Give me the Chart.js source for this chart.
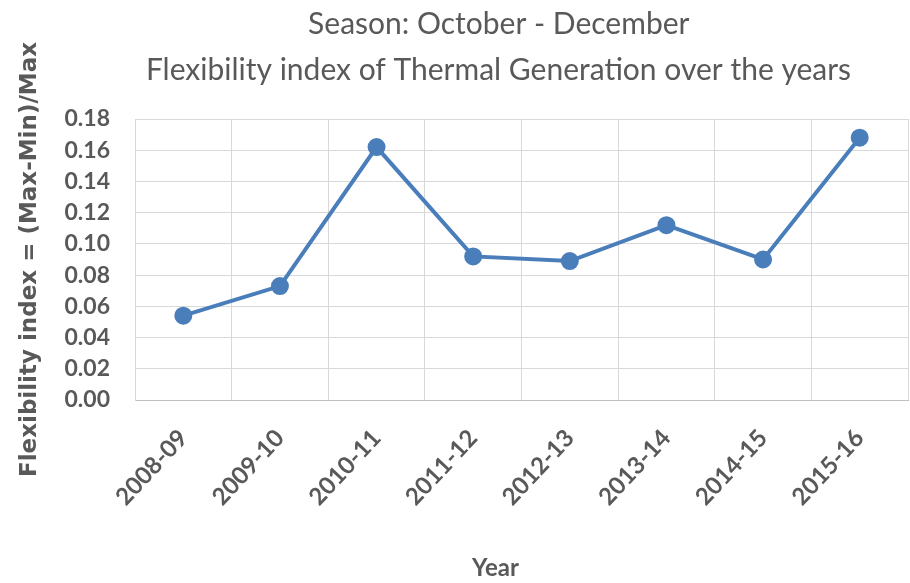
<!DOCTYPE html>
<html>
<head>
<meta charset="utf-8">
<script src="https://cdn.jsdelivr.net/npm/chart.js@4.4.1/dist/chart.umd.min.js"></script>
<style>
html,body{margin:0;padding:0;background:#fff;}
#wrap{width:910px;height:583px;position:relative;}
</style>
</head>
<body>
<div id="wrap"><canvas id="c"></canvas></div>
<script>
const categories = ["2008-09","2009-10","2010-11","2011-12","2012-13","2013-14","2014-15","2015-16"];
const flexibilityIndex = [0.054, 0.073, 0.162, 0.092, 0.089, 0.112, 0.090, 0.168];
const titleLines = ["Season: October - December", "Flexibility index of Thermal Generation over the years"];
const yAxisTitle = "Flexibility index = (Max-Min)/Max";
const xAxisTitle = "Year";

const textColor = "#595959";
const fontFam = "Lato, 'Open Sans', sans-serif";
const pad = '\u00a0'.repeat(6);
const padYear = '\u00a0'.repeat(9);

new Chart(document.getElementById('c'), {
  type: 'line',
  data: {
    labels: categories,
    datasets: [{
      data: flexibilityIndex,
      borderColor: '#4A7EBB',
      backgroundColor: '#4A7EBB',
      borderWidth: 4,
      pointRadius: 7,
      pointHoverRadius: 7,
      pointBackgroundColor: '#4A7EBB',
      pointBorderColor: '#4A7EBB',
      tension: 0
    }]
  },
  options: {
    responsive: true,
    maintainAspectRatio: false,
    animation: false,
    layout: { autoPadding: false, padding: { left: 4, right: 2, top: 0, bottom: 0 } },
    plugins: {
      legend: { display: false },
      tooltip: { enabled: false },
      title: {
        display: true,
        text: titleLines.map(t => t + pad),
        color: textColor,
        fullSize: false,
        font: { family: fontFam, size: 30, weight: 'normal', lineHeight: 46/30 },
        padding: { top: 1, bottom: 26 }
      }
    },
    scales: {
      x: {
        offset: true,
        afterFit: s => { s.height = 183; s.paddingRight = 0; s.paddingLeft = 0; },
        grid: { display: true, offset: true, color: '#d9d9d9', lineWidth: 1, drawTicks: false },
        border: { display: true, color: '#bfbfbf' },
        ticks: {
          color: textColor,
          font: { family: fontFam, size: 24, weight: 'bold' },
          maxRotation: 47, minRotation: 47,
          padding: 24
        },
        title: {
          display: true,
          text: xAxisTitle + padYear,
          color: textColor,
          font: { family: fontFam, size: 24, weight: 'bold' },
          padding: { top: 0, bottom: 0 }
        }
      },
      y: {
        min: 0, max: 0.18,
        afterFit: s => { s.width = 131; },
        grid: { color: '#d9d9d9', lineWidth: 1, drawTicks: false },
        border: { display: true, color: '#d9d9d9' },
        ticks: {
          stepSize: 0.02,
          color: textColor,
          font: { family: fontFam, size: 23, weight: 'bold' },
          padding: 25,
          callback: v => Number(v).toFixed(2)
        },
        title: {
          display: true,
          text: yAxisTitle,
          color: textColor,
          font: { family: "'DejaVu Sans', sans-serif", size: 23, weight: 'bold' },
          padding: { top: 12, bottom: 0 }
        }
      }
    }
  }
});
</script>
</body>
</html>
